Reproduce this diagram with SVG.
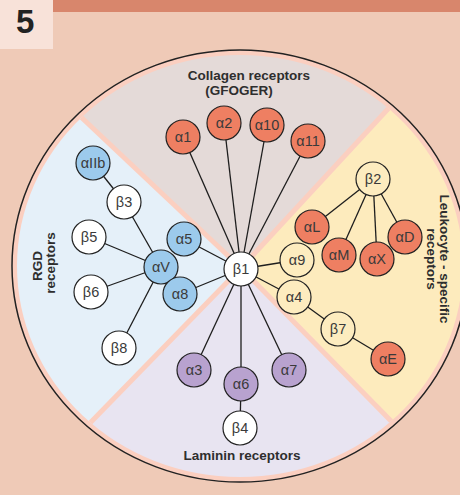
<svg xmlns="http://www.w3.org/2000/svg" width="460" height="495" viewBox="0 0 460 495">
<style>
.n circle{stroke:#222;stroke-width:1.2}
.n text{font-family:"Liberation Sans",Arial,sans-serif;font-size:14.5px;fill:#3a3a3a;text-anchor:middle}
.red circle{fill:#ee7f62}
.blue circle{fill:#9ccaec}
.pur circle{fill:#b8a2cf}
.yel circle{fill:#fdecbf}
.wht circle{fill:#ffffff}
.lbl{font-family:"Liberation Sans",Arial,sans-serif;font-size:13.5px;font-weight:bold;fill:#2e2e2e;text-anchor:middle}
#connectors line{stroke:#1e1e1e;stroke-width:1.3}
.band{stroke:#fbcfc0;stroke-width:5}
</style>
<defs>
<clipPath id="inner"><ellipse cx="240" cy="266" rx="223" ry="211"/></clipPath>
</defs>
<rect x="0" y="0" width="460" height="495" fill="#efcab7"/>
<rect x="53" y="0" width="407" height="12" fill="#d8866c"/>
<rect x="0" y="0" width="53" height="49" fill="#f8e2d9"/>
<text x="16" y="33" style="font-family:'Liberation Sans',Arial,sans-serif;font-size:33px;font-weight:bold;fill:#222">5</text>
<g id="wheel">
<ellipse cx="240" cy="266" rx="228" ry="216" fill="#fbcfc0" stroke="#222" stroke-width="1.5"/>
<g clip-path="url(#inner)">
<polygon points="241,268 -77,-32 533,-48" fill="#e4dad8"/>
<polygon points="241,268 533,-48 543,576" fill="#fdebbd"/>
<polygon points="241,268 543,576 -59,576" fill="#e8e4f1"/>
<polygon points="241,268 -59,576 -77,-32" fill="#e5f0f9"/>
<line class="band" x1="241" y1="268" x2="-77" y2="-32"/>
<line class="band" x1="241" y1="268" x2="533" y2="-48"/>
<line class="band" x1="241" y1="268" x2="543" y2="576"/>
<line class="band" x1="241" y1="268" x2="-59" y2="576"/>
</g>
</g>
<g id="labels">
<text class="lbl" x="249" y="80">Collagen receptors</text>
<text class="lbl" x="239" y="95">(GFOGER)</text>
<text class="lbl" x="242" y="460">Laminin receptors</text>
<text class="lbl" transform="translate(42,266) rotate(-90)">RGD</text>
<text class="lbl" transform="translate(55,263) rotate(-90)">receptors</text>
<text class="lbl" transform="translate(440,259) rotate(90)">Leukocyte - specific</text>
<text class="lbl" transform="translate(427,259) rotate(90)">receptors</text>
</g>
<g id="connectors">
<line x1="241" y1="269" x2="183" y2="137"/>
<line x1="241" y1="269" x2="224" y2="123"/>
<line x1="241" y1="269" x2="267" y2="125"/>
<line x1="241" y1="269" x2="308" y2="141"/>
<line x1="241" y1="269" x2="184" y2="239"/>
<line x1="241" y1="269" x2="180" y2="294"/>
<line x1="241" y1="269" x2="297" y2="260"/>
<line x1="241" y1="269" x2="294" y2="297"/>
<line x1="241" y1="269" x2="194" y2="370"/>
<line x1="241" y1="269" x2="241" y2="384"/>
<line x1="241" y1="269" x2="289" y2="370"/>
<line x1="93" y1="163" x2="124" y2="202"/>
<line x1="124" y1="202" x2="161" y2="267"/>
<line x1="89" y1="237" x2="161" y2="267"/>
<line x1="91" y1="292" x2="161" y2="267"/>
<line x1="119" y1="348" x2="161" y2="267"/>
<line x1="373" y1="179" x2="312" y2="227"/>
<line x1="373" y1="179" x2="339" y2="255"/>
<line x1="373" y1="179" x2="377" y2="259"/>
<line x1="373" y1="179" x2="405" y2="237"/>
<line x1="294" y1="297" x2="338" y2="329"/>
<line x1="338" y1="329" x2="388" y2="359"/>
<line x1="241" y1="384" x2="240" y2="428"/>
</g>
<g id="a1" class="n red"><circle cx="183" cy="137" r="17"/><text x="183" y="142">α1</text></g>
<g id="a2" class="n red"><circle cx="224" cy="123" r="17"/><text x="224" y="128">α2</text></g>
<g id="a10" class="n red"><circle cx="267" cy="125" r="17"/><text x="267" y="130">α10</text></g>
<g id="a11" class="n red"><circle cx="308" cy="141" r="17"/><text x="308" y="146">α11</text></g>
<g id="aIIb" class="n blue"><circle cx="93" cy="163" r="17"/><text x="93" y="168">αIIb</text></g>
<g id="b3" class="n wht"><circle cx="124" cy="202" r="17"/><text x="124" y="207">β3</text></g>
<g id="b5" class="n wht"><circle cx="89" cy="237" r="17"/><text x="89" y="242">β5</text></g>
<g id="a5" class="n blue"><circle cx="184" cy="239" r="17"/><text x="184" y="244">α5</text></g>
<g id="aV" class="n blue"><circle cx="161" cy="267" r="17"/><text x="161" y="272">αV</text></g>
<g id="b6" class="n wht"><circle cx="91" cy="292" r="17"/><text x="91" y="297">β6</text></g>
<g id="a8" class="n blue"><circle cx="180" cy="294" r="17"/><text x="180" y="299">α8</text></g>
<g id="b8" class="n wht"><circle cx="119" cy="348" r="17"/><text x="119" y="353">β8</text></g>
<g id="b1" class="n wht"><circle cx="241" cy="269" r="17"/><text x="241" y="274">β1</text></g>
<g id="b2" class="n yel"><circle cx="373" cy="179" r="17"/><text x="373" y="184">β2</text></g>
<g id="aL" class="n red"><circle cx="312" cy="227" r="17"/><text x="312" y="232">αL</text></g>
<g id="aM" class="n red"><circle cx="339" cy="255" r="17"/><text x="339" y="260">αM</text></g>
<g id="aX" class="n red"><circle cx="377" cy="259" r="17"/><text x="377" y="264">αX</text></g>
<g id="aD" class="n red"><circle cx="405" cy="237" r="17"/><text x="405" y="242">αD</text></g>
<g id="a9" class="n yel"><circle cx="297" cy="260" r="17"/><text x="297" y="265">α9</text></g>
<g id="a4" class="n yel"><circle cx="294" cy="297" r="17"/><text x="294" y="302">α4</text></g>
<g id="b7" class="n yel"><circle cx="338" cy="329" r="17"/><text x="338" y="334">β7</text></g>
<g id="aE" class="n red"><circle cx="388" cy="359" r="17"/><text x="388" y="364">αE</text></g>
<g id="a3" class="n pur"><circle cx="194" cy="370" r="17"/><text x="194" y="375">α3</text></g>
<g id="a6" class="n pur"><circle cx="241" cy="384" r="17"/><text x="241" y="389">α6</text></g>
<g id="a7" class="n pur"><circle cx="289" cy="370" r="17"/><text x="289" y="375">α7</text></g>
<g id="b4" class="n wht"><circle cx="240" cy="428" r="17"/><text x="240" y="433">β4</text></g>
</svg>
